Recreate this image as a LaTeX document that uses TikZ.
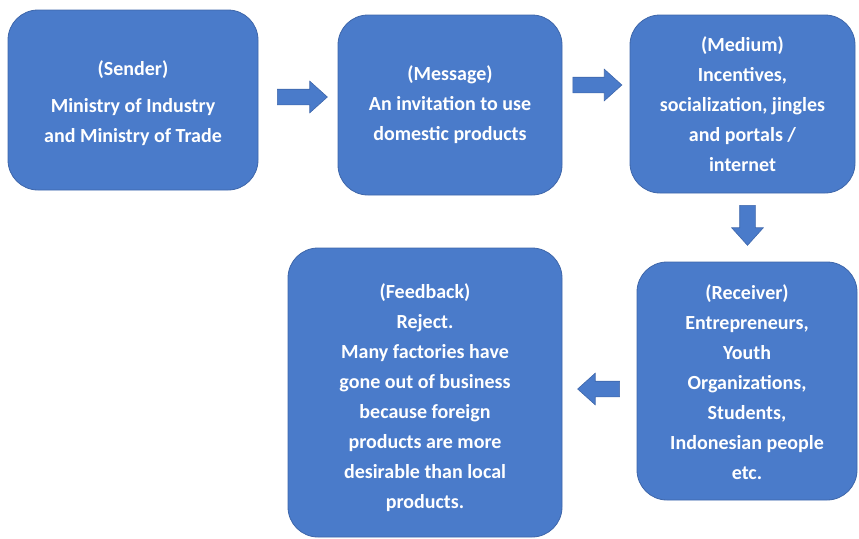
\documentclass[tikz,border=0pt]{standalone}
\usepackage{fontspec}
\setmainfont{Carlito}
\usepackage{xcolor}
\usetikzlibrary{shapes.arrows, positioning}

\definecolor{boxblue}{HTML}{4A7BCA}
\definecolor{boxedge}{HTML}{3E66AA}

\begin{document}
\begin{tikzpicture}[x=1pt, y=-1pt,
    stage/.style={draw=boxedge, line width=0.8pt, fill=boxblue, rounded corners=30pt,
        text=white, font=\bfseries\fontsize{20}{30}\selectfont, align=center,
        inner sep=0pt},
    flow/.style={single arrow, draw=boxedge, line width=0.6pt, fill=boxblue,
        inner xsep=0pt, inner ysep=7.5pt, single arrow head extend=8pt,
        single arrow tip angle=84}]

    % =================================================================
    % 1. KHUNG HINH
    % =================================================================
    \useasboundingbox (0,0) rectangle (859,538);

    % =================================================================
    % 2. CAC KHOI
    % =================================================================
    \node[stage, minimum width=250pt, minimum height=180pt] (sender) at (133,100)
        {\rule{0pt}{22pt}(Sender)\\[7pt]Ministry of Industry\\and Ministry of Trade};
    \node[stage, minimum width=224pt, minimum height=180pt] (message) at (450,105)
        {(Message)\\An invitation to use\\domestic products};
    \node[stage, minimum width=225pt, minimum height=178pt] (medium) at (742.5,104)
        {(Medium)\\Incentives,\\socialization, jingles\\and portals /\\internet};
    \node[stage, minimum width=220pt, minimum height=238pt] (receiver) at (747,381)
        {\rule{0pt}{18pt}(Receiver)\\Entrepreneurs,\\Youth\\Organizations,\\Students,\\Indonesian people\\etc.};
    \node[stage, minimum width=274pt, minimum height=289pt] (feedback) at (425,392.5)
        {\rule{0pt}{26pt}(Feedback)\\Reject.\\Many factories have\\gone out of business\\because foreign\\products are more\\desirable than local\\products.};

    % =================================================================
    % 3. CAC MUI TEN
    % =================================================================
    \node[flow, minimum height=50pt] (a1) at (298,97) {};
    \node[flow, minimum height=49pt] (a2) at (593,85) {};
    \node[flow, shape border rotate=270, inner xsep=7.5pt, inner ysep=0pt,
        minimum height=40pt, minimum width=31pt] (a3) at (747.5,221) {};
    \node[flow, shape border rotate=180, minimum height=42pt] (a4) at (603,389) {};

\end{tikzpicture}
\end{document}
